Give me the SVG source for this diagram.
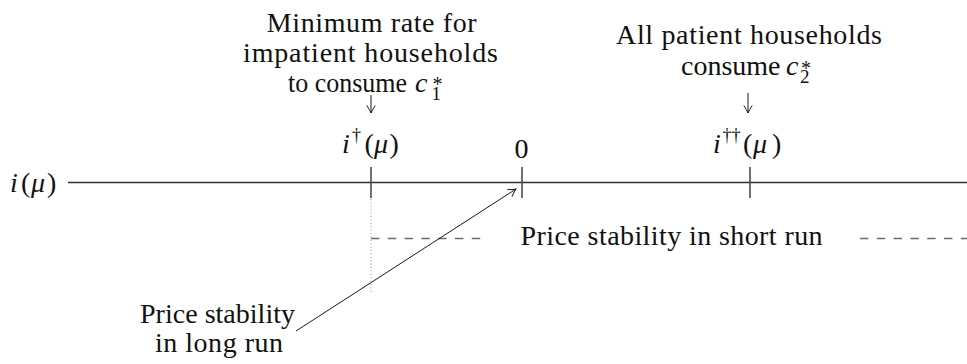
<svg xmlns="http://www.w3.org/2000/svg" width="967" height="364" viewBox="0 0 967 364">
<style>
  text { font-family: "Liberation Serif", "Times New Roman", serif; font-size: 28px; fill: #111; }
  .it { font-style: italic; }
  .sm { font-size: 19px; }
  .st { font-size: 20px; }
  .dg { font-size: 18px; }
  .tick { stroke: #4d4d4d; stroke-width: 1.6; fill: none; }
  .axis { stroke: #333; stroke-width: 1.3; fill: none; }
  .dash { stroke: #6b6b6b; stroke-width: 1.3; stroke-dasharray: 8.4 8.4; fill: none; }
  .dot { stroke: #8a8a8a; stroke-width: 1; stroke-dasharray: 1 2.4; fill: none; }
  .conn { stroke: #1a1a1a; stroke-width: 1; fill: none; }
</style>
<defs>
  <marker id="head" markerWidth="12" markerHeight="12" refX="0" refY="0" viewBox="-10 -6 12 12" orient="auto" markerUnits="userSpaceOnUse">
    <path d="M-7.5,-4.2 Q-3,-1.2 0,0 Q-3,1.2 -7.5,4.2" fill="none" stroke="#1a1a1a" stroke-width="1"/>
  </marker>
</defs>
<rect width="967" height="364" fill="#ffffff"/>

<g id="axis">
  <line class="axis" x1="68" y1="182.5" x2="967" y2="182.5"/>
  <text x="10" y="192"><tspan class="it">i</tspan><tspan x="21">(</tspan><tspan class="it" x="31">μ</tspan><tspan x="47">)</tspan></text>
</g>

<g id="tick-idagger">
  <line class="tick" x1="371" y1="167" x2="371" y2="198"/>
  <text y="152.5"><tspan class="it" x="342">i</tspan><tspan class="dg" x="352" y="141">†</tspan><tspan x="364.5" y="152.5">(</tspan><tspan class="it" x="374">μ</tspan><tspan x="389.5">)</tspan></text>
</g>

<g id="tick-zero">
  <line class="tick" x1="522" y1="167" x2="522" y2="198"/>
  <text x="521.5" y="158" text-anchor="middle">0</text>
</g>

<g id="tick-iddagger">
  <line class="tick" x1="750" y1="167" x2="750" y2="198"/>
  <text y="152.5"><tspan class="it" x="713">i</tspan><tspan class="dg" x="722.5" y="141">††</tspan><tspan x="743" y="152.5">(</tspan><tspan class="it" x="753">μ</tspan><tspan x="772">)</tspan></text>
</g>

<g id="label-minimum">
  <text x="266.7" y="31.5" textLength="210">Minimum rate for</text>
  <text x="243" y="61.5" textLength="255">impatient households</text>
  <text y="91.5"><tspan x="288" textLength="119" lengthAdjust="spacingAndGlyphs">to consume</tspan><tspan class="it" x="415">c</tspan><tspan class="sm" x="431.5" y="99.5">1</tspan><tspan class="st" x="432.5" y="91">*</tspan></text>
</g>

<g id="label-patient">
  <text x="616" y="44" textLength="266">All patient households</text>
  <text y="75"><tspan x="681">consume</tspan><tspan class="it" x="786">c</tspan><tspan class="sm" x="800" y="82.5">2</tspan><tspan class="st" x="801" y="74.5">*</tspan></text>
</g>

<g id="short-run">
  <line class="dot" x1="371" y1="199" x2="371" y2="294"/>
  <line class="dash" x1="371" y1="238.5" x2="484" y2="238.5"/>
  <line class="dash" x1="860" y1="238.5" x2="967" y2="238.5"/>
  <text x="520.6" y="245" textLength="302">Price stability in short run</text>
</g>

<g id="long-run">
  <text x="140" y="323" textLength="155">Price stability</text>
  <text x="155" y="352" textLength="128">in long run</text>
</g>

<g id="connectors">
  <line class="conn" x1="371" y1="95" x2="371" y2="113" marker-end="url(#head)"/>
  <line class="conn" x1="748" y1="93" x2="748" y2="113" marker-end="url(#head)"/>
  <line class="conn" x1="296" y1="331" x2="516" y2="189" marker-end="url(#head)"/>
</g>
</svg>
